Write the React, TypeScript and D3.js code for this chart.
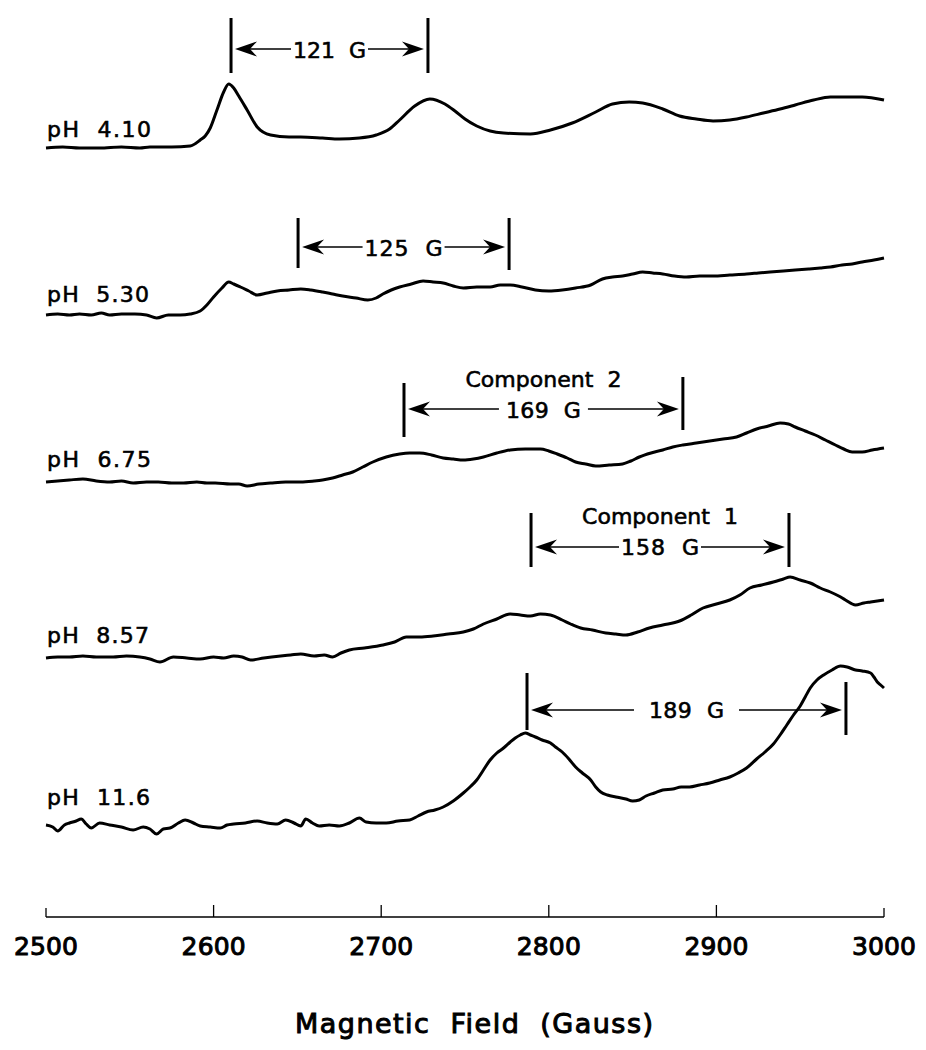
import React from "react";
import * as d3 from "d3";

// EPR spectra at different pH, field in Gauss, signal in arbitrary units above each baseline
const fieldTicks = [2500, 2600, 2700, 2800, 2900, 3000];
const phLabels = ["pH  4.10", "pH  5.30", "pH  6.75", "pH  8.57", "pH  11.6"];

const ph410: [number, number][] = [
  [2500, 0], [2510, 1], [2520, 0], [2532, 0], [2545, 1], [2556, 0], [2562, 1], [2575, 1], [2586, 2],
  [2592, 8], [2595, 12], [2598, 20], [2602, 38], [2606, 56], [2609, 64], [2612, 60], [2615, 52],
  [2620, 38], [2626, 21], [2634, 13], [2645, 11], [2652, 11], [2665, 10], [2675, 9], [2687, 10],
  [2697, 13], [2705, 19], [2711, 28], [2720, 42], [2729, 49], [2738, 44], [2744, 37], [2750, 29],
  [2757, 22], [2765, 17], [2773, 15], [2789, 14], [2801, 18], [2814, 25], [2828, 36], [2838, 44],
  [2848, 46], [2856, 45], [2868, 39], [2878, 32], [2888, 29], [2898, 27], [2908, 28], [2918, 31],
  [2928, 35], [2938, 39], [2947, 43], [2958, 48], [2968, 51], [2977, 51], [2987, 51], [3000, 48],
];

const ph530: [number, number][] = [
  [2500, 0], [2507, 1], [2514, 0], [2520, 1], [2527, 0], [2533, 2], [2538, 0], [2545, 1], [2553, 1],
  [2560, 0], [2566, -3], [2573, 0], [2580, 0], [2586, 1], [2592, 4], [2596, 10], [2600, 18],
  [2605, 27], [2609, 33], [2612, 31], [2616, 28], [2621, 24], [2626, 20], [2632, 22], [2638, 24],
  [2645, 25], [2652, 26], [2658, 25], [2665, 23], [2671, 21], [2677, 19], [2685, 17], [2692, 15],
  [2697, 17], [2701, 21], [2706, 25], [2711, 28], [2718, 31], [2725, 34], [2731, 33], [2737, 32],
  [2743, 29], [2749, 27], [2757, 28], [2765, 28], [2771, 30], [2777, 30], [2784, 28], [2792, 25],
  [2800, 24], [2808, 25], [2816, 27], [2825, 30], [2832, 36], [2838, 38], [2844, 39], [2850, 41],
  [2856, 43], [2862, 42], [2868, 41], [2875, 39], [2882, 38], [2890, 39], [2898, 39], [2908, 40],
  [2918, 41], [2925, 42], [2932, 43], [2940, 44], [2947, 45], [2955, 46], [2962, 47], [2968, 48],
  [2975, 50], [2981, 51], [2987, 53], [2994, 55], [3000, 57],
];

const ph675: [number, number][] = [
  [2500, 1], [2507, 2], [2514, 3], [2522, 4], [2530, 2], [2538, 1], [2545, 2], [2552, 0], [2560, 1],
  [2567, 1], [2575, 0], [2582, 0], [2590, 1], [2596, 0], [2601, 0], [2610, -1], [2615, -1],
  [2620, -3], [2627, -1], [2634, 0], [2643, 1], [2652, 1], [2660, 2], [2665, 3], [2671, 5],
  [2677, 8], [2683, 11], [2689, 16], [2695, 21], [2703, 26], [2711, 29], [2717, 30], [2723, 30],
  [2730, 28], [2737, 25], [2743, 24], [2749, 23], [2755, 24], [2761, 26], [2769, 30], [2777, 33],
  [2786, 34], [2795, 34], [2800, 32], [2805, 29], [2811, 25], [2816, 21], [2822, 19], [2828, 17],
  [2836, 18], [2844, 19], [2849, 22], [2854, 26], [2861, 30], [2868, 33], [2874, 36], [2880, 38],
  [2888, 40], [2896, 42], [2904, 44], [2912, 46], [2918, 50], [2924, 54], [2931, 57], [2938, 60],
  [2943, 59], [2947, 56], [2953, 52], [2959, 48], [2965, 43], [2971, 38], [2976, 34], [2981, 31],
  [2987, 31], [2993, 33], [3000, 35],
];

const ph857: [number, number][] = [
  [2500, 0], [2507, 1], [2514, 1], [2522, 2], [2530, 1], [2540, 1], [2548, 2], [2556, 1], [2562, -1],
  [2568, -4], [2576, 1], [2584, 0], [2592, -1], [2600, 1], [2606, 0], [2612, 2], [2617, 1],
  [2622, -2], [2630, 0], [2640, 2], [2646, 3], [2652, 4], [2660, 2], [2666, 3], [2671, 1],
  [2676, 5], [2681, 8], [2690, 10], [2701, 13], [2708, 16], [2715, 21], [2723, 21], [2731, 22],
  [2740, 24], [2749, 26], [2755, 29], [2761, 34], [2769, 39], [2777, 44], [2783, 43], [2789, 42],
  [2795, 44], [2801, 43], [2808, 38], [2813, 34], [2819, 30], [2826, 28], [2834, 25], [2840, 24],
  [2846, 23], [2853, 26], [2860, 30], [2868, 33], [2878, 37], [2885, 43], [2892, 50], [2900, 54],
  [2908, 58], [2914, 63], [2920, 70], [2927, 73], [2934, 76], [2940, 79], [2944, 81], [2950, 78],
  [2956, 75], [2962, 70], [2968, 66], [2973, 62], [2977, 58], [2983, 53], [2988, 55], [2992, 56],
  [2996, 57], [3000, 58],
];

const ph116: [number, number][] = [
  [2500, 0], [2504, -2], [2507, -6], [2511, 0], [2514, 2], [2518, 4], [2521, 6], [2524, 1],
  [2527, -3], [2532, 2], [2538, 0], [2545, -2], [2552, -5], [2558, -2], [2562, -4], [2566, -9],
  [2570, -4], [2574, -3], [2579, 2], [2583, 5], [2588, 2], [2592, -1], [2598, -2], [2604, -3],
  [2608, 0], [2612, 1], [2619, 2], [2626, 4], [2632, 2], [2638, 1], [2643, 5], [2648, 2],
  [2652, -1], [2655, 6], [2659, 2], [2663, -1], [2669, 0], [2675, -1], [2681, 2], [2687, 7],
  [2691, 3], [2697, 2], [2703, 2], [2710, 4], [2717, 5], [2722, 9], [2727, 13], [2732, 15],
  [2737, 18], [2743, 24], [2749, 32], [2753, 38], [2757, 45], [2761, 55], [2765, 65], [2769, 72],
  [2773, 77], [2777, 83], [2780, 87], [2783, 90], [2786, 92], [2789, 90], [2792, 88], [2796, 85],
  [2801, 82], [2804, 78], [2808, 73], [2812, 66], [2816, 58], [2820, 52], [2825, 45], [2828, 38],
  [2831, 33], [2835, 30], [2840, 28], [2846, 26], [2850, 24], [2854, 25], [2858, 29], [2863, 32],
  [2868, 35], [2874, 36], [2879, 38], [2884, 38], [2890, 40], [2896, 42], [2902, 45], [2908, 48],
  [2913, 52], [2918, 57], [2924, 66], [2929, 73], [2934, 81], [2938, 90], [2942, 100], [2946, 110],
  [2950, 119], [2953, 128], [2956, 137], [2960, 145], [2964, 150], [2969, 155], [2974, 159],
  [2978, 158], [2983, 155], [2987, 154], [2992, 152], [2994, 148], [2996, 143], [2998, 140],
  [3000, 137],
];

const spectra = [ph410, ph530, ph675, ph857, ph116];

// hyperfine splittings marked on each spectrum (Gauss)
const splitLabels = ["121 G", "125 G", "169 G", "158 G", "189 G"];
const splitFrom = [2610.4, 2650.4, 2713.6, 2789.4, 2787];
const splitTo = [2727.9, 2776.3, 2880, 2943.3, 2977.3];
const componentLabels = ["", "", "Component 2", "Component 1", ""];

// layout (pixels)
const W = 926;
const H = 1050;
const baselines = [148, 315, 483, 658, 825];
const labelY = [137, 302, 467, 643, 805];
const labelW = [104, 102, 104, 102, 103];
const marks = [
  { l: [18, 73], r: [18, 73], arrowY: 49, textY: 58, textW: 73, gap: 2, compY: 0 },
  { l: [218, 268], r: [218, 270], arrowY: 247, textY: 256, textW: 78, gap: 2, compY: 0 },
  { l: [383, 437], r: [377, 430], arrowY: 409, textY: 418, textW: 75, gap: 7, compY: 387 },
  { l: [513, 567], r: [513, 567], arrowY: 547, textY: 555, textW: 78, gap: 2, compY: 524 },
  { l: [673, 730], r: [682, 735], arrowY: 710, textY: 718, textW: 75, gap: 15, compY: 0 },
];
const axisY = 917;
const font = "'DejaVu Sans', Verdana, sans-serif";
const ink = { fill: "#000", stroke: "#000", strokeWidth: 0.6 };

const x = d3.scaleLinear().domain([2500, 3000]).range([46, 884]);
const y = d3.scaleLinear().domain([0, 100]).range([0, -100]);

const line = d3
  .line<[number, number]>()
  .x((d) => x(d[0]))
  .y((d) => y(d[1]))
  .curve(d3.curveMonotoneX);

const arrowHead = "M0,0 L-22,-7.5 L-15,0 L-22,7.5 Z";

function Splitting({ i }: { i: number }) {
  const m = marks[i];
  const xl = x(splitFrom[i]);
  const xr = x(splitTo[i]);
  const mid = (xl + xr) / 2;
  const tipL = xl + 4;
  const tipR = xr - 4;
  return (
    <g>
      <line x1={xl} x2={xl} y1={m.l[0]} y2={m.l[1]} stroke="#000" strokeWidth={3} />
      <line x1={xr} x2={xr} y1={m.r[0]} y2={m.r[1]} stroke="#000" strokeWidth={3} />
      <line x1={tipL + 10} x2={mid - m.textW / 2 - m.gap} y1={m.arrowY} y2={m.arrowY} stroke="#000" strokeWidth={1.3} />
      <line x1={mid + m.textW / 2 + m.gap} x2={tipR - 10} y1={m.arrowY} y2={m.arrowY} stroke="#000" strokeWidth={1.3} />
      <path d={arrowHead} transform={`translate(${tipL},${m.arrowY}) scale(-1,1)`} fill="#000" />
      <path d={arrowHead} transform={`translate(${tipR},${m.arrowY})`} fill="#000" />
      <text
        x={mid}
        y={m.textY}
        textAnchor="middle"
        fontSize={22}
        textLength={m.textW}
        lengthAdjust="spacing"
        style={{ whiteSpace: "pre" }}
        {...ink}
      >
        {splitLabels[i].replace(" ", "  ")}
      </text>
      {componentLabels[i] && (
        <text
          x={mid}
          y={m.compY}
          textAnchor="middle"
          fontSize={22}
          textLength={156}
          lengthAdjust="spacing"
          style={{ whiteSpace: "pre" }}
          {...ink}
        >
          {componentLabels[i].replace(" ", "  ")}
        </text>
      )}
    </g>
  );
}

export default function App() {
  return (
    <svg
      width={W}
      height={H}
      viewBox={`0 0 ${W} ${H}`}
      style={{ position: "absolute", left: 0, top: 0, background: "#fff" }}
      fontFamily={font}
    >
      <rect width={W} height={H} fill="#fff" />
      {spectra.map((s, i) => (
        <g key={i} transform={`translate(0,${baselines[i]})`}>
          <path d={line(s) || ""} fill="none" stroke="#000" strokeWidth={3} strokeLinejoin="round" />
        </g>
      ))}
      {phLabels.map((t, i) => (
        <text
          key={t}
          x={x(2500) + 1}
          y={labelY[i]}
          fontSize={22}
          textLength={labelW[i]}
          lengthAdjust="spacing"
          style={{ whiteSpace: "pre" }}
          {...ink}
        >
          {t}
        </text>
      ))}
      {spectra.map((_, i) => (
        <Splitting key={i} i={i} />
      ))}
      <g>
        <line x1={x(2500)} x2={x(3000)} y1={axisY} y2={axisY} stroke="#000" strokeWidth={1.5} />
        {fieldTicks.map((t, i) => {
          const len = i === 0 || i === fieldTicks.length - 1 ? 9 : 12;
          return (
            <g key={t}>
              <line x1={x(t)} x2={x(t)} y1={axisY} y2={axisY - len} stroke="#000" strokeWidth={1.3} />
              <text
                x={x(t)}
                y={axisY + 38}
                textAnchor="middle"
                fontSize={25}
                textLength={64}
                lengthAdjust="spacing"
                {...ink}
                strokeWidth={1}
              >
                {t}
              </text>
            </g>
          );
        })}
        <text
          x={474}
          y={1033}
          textAnchor="middle"
          fontSize={27}
          textLength={358}
          lengthAdjust="spacing"
          style={{ whiteSpace: "pre" }}
          {...ink}
          strokeWidth={1}
        >
          {"Magnetic  Field  (Gauss)"}
        </text>
      </g>
    </svg>
  );
}
